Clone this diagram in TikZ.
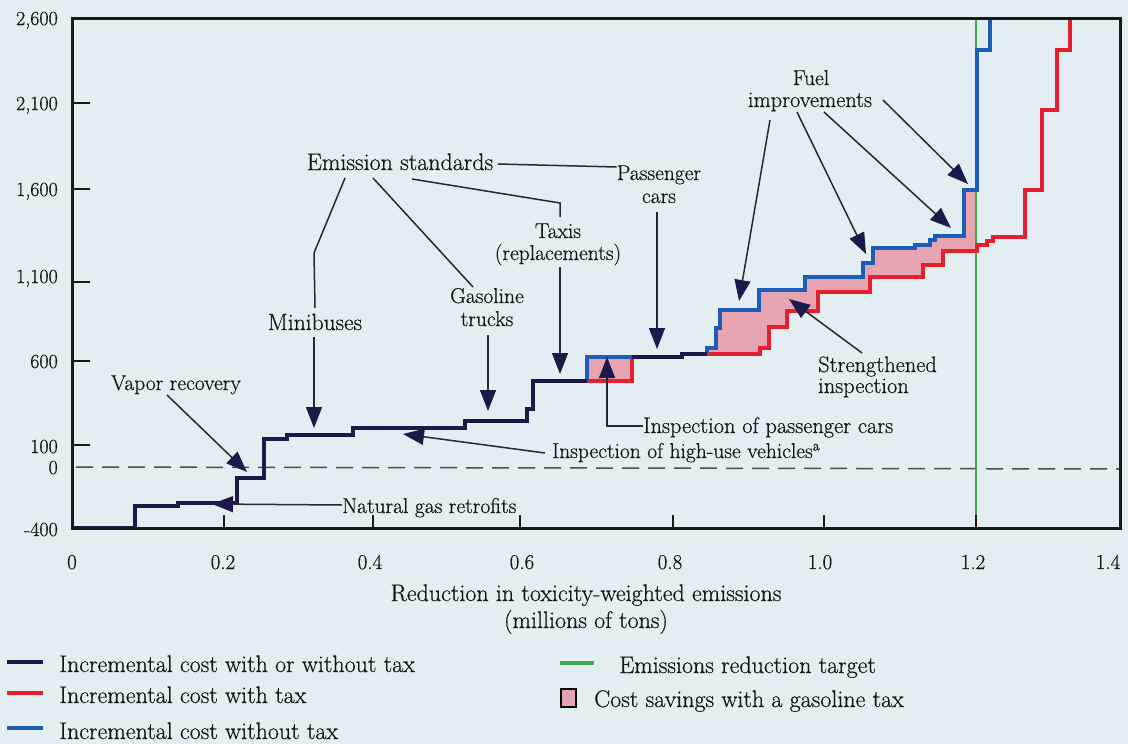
\documentclass[tikz,border=0pt]{standalone}
\usepackage{fontspec}
\setmainfont{Latin Modern Roman}[FakeBold=0.5]
\usetikzlibrary{arrows.meta}
\definecolor{bgc}{RGB}{226,238,242}
\definecolor{navy}{RGB}{28,26,74}
\definecolor{redc}{RGB}{228,32,44}
\definecolor{bluec}{RGB}{30,92,186}
\definecolor{greenc}{RGB}{70,165,80}
\definecolor{pinkc}{RGB}{230,163,176}
\definecolor{annc}{RGB}{40,40,50}
\definecolor{txtc}{RGB}{20,20,25}
\begin{document}
\begin{tikzpicture}[x=1pt,y=-1pt,
  txt/.style={font=\fontsize{21.5}{23}\selectfont, inner sep=0pt, text=txtc, anchor=base},
  bigtxt/.style={txt, font=\fontsize{24}{26}\selectfont},
  ylab/.style={font=\fontsize{20}{22}\selectfont, inner sep=0pt, text=txtc, anchor=base east},
  xlab/.style={font=\fontsize{21}{22}\selectfont, inner sep=0pt, text=txtc, anchor=base},
  ann/.style={draw=annc, line width=1.5pt},
  annarr/.style={ann, -{Triangle[length=21pt,width=16pt,color=navy]}},
  curven/.style={draw=navy, line width=3.8pt, line join=miter},
  curver/.style={draw=redc, line width=3.2pt, line join=miter},
  curveb/.style={draw=bluec, line width=3.2pt, line join=miter},
  legline/.style={line width=4pt}
]
\fill[bgc] (0,0) rectangle (1128,744);
\useasboundingbox (0,0) rectangle (1128,744);

% cost savings fills
\fill[pinkc] (587,381) -- (587,357) -- (632,357) -- (632,381) -- cycle;
\fill[pinkc] (707,354) -- (707,348) -- (716,348) -- (716,328) -- (720,328) -- (720,310) -- (759,310) -- (759,290) -- (805,290) -- (805,277) -- (863,277) -- (863,263) -- (873,263) -- (873,248) -- (915,248) -- (915,245) -- (930,245) -- (930,240) -- (935,240) -- (935,236) -- (964,236) -- (964,190) -- (977,190) -- (977,251) -- (943,251) -- (943,265) -- (923,265) -- (923,277) -- (870,277) -- (870,292) -- (818,292) -- (818,311) -- (787,311) -- (787,327) -- (769,327) -- (769,348) -- (760,348) -- (760,354) -- cycle;

% zero line and target
\draw[dash pattern=on 17pt off 9pt, line width=1.5pt, color=black!70] (76,467) -- (1120,469);
\draw[greenc, line width=2.5pt] (976,18) -- (976,528);

% curves
\draw[curver] (587,381) -- (632,381) -- (632,357);
\draw[curver] (707,354) -- (760,354) -- (760,348) -- (769,348) -- (769,327) -- (787,327) -- (787,311) -- (818,311) -- (818,292) -- (870,292) -- (870,277) -- (923,277) -- (923,265) -- (943,265) -- (943,251) -- (977,251) -- (977,245) -- (987,245) -- (987,241) -- (993,241) -- (993,237) -- (1025,237) -- (1025,190) -- (1042,190) -- (1042,110) -- (1057,110) -- (1057,50) -- (1070,50) -- (1070,18);
\draw[curveb] (587,381) -- (587,357) -- (632,357);
\draw[curveb] (707,354) -- (707,348) -- (716,348) -- (716,328) -- (720,328) -- (720,310) -- (759,310) -- (759,290) -- (805,290) -- (805,277) -- (863,277) -- (863,263) -- (873,263) -- (873,248) -- (915,248) -- (915,245) -- (930,245) -- (930,240) -- (935,240) -- (935,236) -- (964,236) -- (964,190) -- (977,190) -- (977,50) -- (990,50) -- (990,18);
\draw[curven] (72,528) -- (135,528) -- (135,506) -- (178,506) -- (178,503) -- (237,503) -- (237,478) -- (264,478) -- (264,439) -- (287,439) -- (287,435) -- (353,435) -- (353,428) -- (465,428) -- (465,421) -- (527,421) -- (527,409) -- (533,409) -- (533,381) -- (587,381);
\draw[curven] (632,357) -- (682,357) -- (682,354) -- (707,354);

% frame and ticks
\draw[line width=3pt, color=black!90] (72,18) rectangle (1120,528);
\foreach \yy in {103,189,282,361,445} \draw[line width=2.5pt, color=black!90] (72,\yy) -- (90,\yy);
\foreach \xx in {224,373,520,673,824,976} \draw[line width=2pt, color=black!90] (\xx,528) -- (\xx,515);

% y labels
\node[ylab] (y2600) at (58,25) {2,600};
\node[ylab] (y2100) at (58,110) {2,100};
\node[ylab] (y1600) at (58,196) {1,600};
\node[ylab] (y1100) at (58,283) {1,100};
\node[ylab] (y600) at (58,368) {600};
\node[ylab] (y100) at (58,453) {100};
\node[ylab] (y0) at (58,474) {0};
\node[ylab] (ym400) at (58,536) {-400};

% x labels
\node[xlab] (x0) at (72,569) {0};
\node[xlab] (x02) at (223,569) {0.2};
\node[xlab] (x04) at (370,569) {0.4};
\node[xlab] (x06) at (522,569) {0.6};
\node[xlab] (x08) at (670,569) {0.8};
\node[xlab] (x10) at (820,569) {1.0};
\node[xlab] (x12) at (973,569) {1.2};
\node[xlab] (x14) at (1108,569) {1.4};
\node[bigtxt] (xt1) at (586,601) {Reduction in toxicity-weighted emissions};
\node[bigtxt] (xt2) at (586,628) {(millions of tons)};

% annotation labels
\node[txt, font=\fontsize{24}{26}\selectfont] (es) at (400,170) {Emission standards};
\node[txt] (pc1) at (659,180) {Passenger};
\node[txt] (pc2) at (659,203) {cars};
\node[txt] (tx1) at (558,238) {Taxis};
\node[txt] (tx2) at (558,260) {(replacements)};
\node[txt] (gt1) at (487,303) {Gasoline};
\node[txt] (gt2) at (487,326) {trucks};
\node[txt, font=\fontsize{23.5}{25}\selectfont] (mb) at (315,330) {Minibuses};
\node[txt] (vr) at (176,390) {Vapor recovery};
\node[txt, anchor=base west] (ng) at (342,513) {Natural gas retrofits};
\node[txt, anchor=base west] (hu) at (552,458) {Inspection of high-use vehicles\textsuperscript{a}};
\node[txt, anchor=base west, font=\fontsize{22.4}{24}\selectfont] (ip) at (643,433) {Inspection of passenger cars};
\node[txt, anchor=base west, font=\fontsize{22.4}{24}\selectfont] (si1) at (818,372) {Strengthened};
\node[txt, anchor=base west, font=\fontsize{22.4}{24}\selectfont] (si2) at (818,393) {inspection};
\node[txt] (fi1) at (811,85) {Fuel};
\node[txt, font=\fontsize{22.3}{24}\selectfont] (fi2) at (810,107) {improvements};

% coordinates for connector ends
\coordinate (esMb) at (345,178);
\coordinate (bendMb) at (314,253);
\coordinate (esGt) at (373,178);
\coordinate (esTx) at (412,179);
\coordinate (bendTx) at (560,203);
\coordinate (esR) at (498,164);
\coordinate (tMb) at (314,428);
\coordinate (tGt) at (488,411);
\coordinate (tTx) at (560,374);
\coordinate (tPc) at (657,349);
\coordinate (tVr) at (247,472);
\coordinate (tNg) at (212,504);
\coordinate (tHu) at (403,434);
\coordinate (bendIp) at (607,426);
\coordinate (tIp) at (607,357);
\coordinate (tSi) at (789,299);
\coordinate (tF1) at (739,301);
\coordinate (tF2) at (866,254);
\coordinate (tF3) at (951,228);
\coordinate (tF4) at (968,184);

% connectors
\draw[ann] (esMb) -- (bendMb) -- (mb.north |- 0,308);
\draw[annarr] (314,337) -- (tMb);
\draw[ann] (esGt) -- (473,287);
\draw[annarr] (488,335) -- (tGt);
\draw[ann] (esTx) -- (bendTx) -- (560,217);
\draw[annarr] (560,267) -- (tTx);
\draw[ann] (esR) -- (pc1.west |- 0,167);
\draw[annarr] (657,212) -- (tPc);
\draw[annarr] (167,395) -- (tVr);
\draw[annarr] (ng.west |- 0,505) -- (tNg);
\draw[annarr] (545,453) -- (tHu);
\draw[ann, -{Triangle[length=21pt,width=16pt,color=navy]}] (ip.west |- 0,426) -- (bendIp) -- (tIp);
\draw[annarr] (862,353) -- (tSi);
\draw[annarr] (770,120) -- (tF1);
\draw[annarr] (797,112) -- (tF2);
\draw[annarr] (824,112) -- (tF3);
\draw[annarr] (883,100) -- (tF4);

% legend
\coordinate (l1a) at (7,662); \coordinate (l1b) at (43,662);
\coordinate (l2a) at (7,693); \coordinate (l2b) at (43,693);
\coordinate (l3a) at (7,728); \coordinate (l3b) at (43,728);
\coordinate (l4a) at (560,663); \coordinate (l4b) at (594,663);
\draw[legline, navy] (l1a) -- (l1b);
\draw[legline, redc] (l2a) -- (l2b);
\draw[legline, bluec] (l3a) -- (l3b);
\draw[legline, greenc] (l4a) -- (l4b);
\draw[fill=pinkc, draw=black, line width=1.5pt] (561,689) rectangle (576,707);
\node[bigtxt, anchor=base west] (lg1) at (59,672) {Incremental cost with or without tax};
\node[bigtxt, anchor=base west] (lg2) at (59,703) {Incremental cost with tax};
\node[bigtxt, anchor=base west] (lg3) at (59,739) {Incremental cost without tax};
\node[bigtxt, anchor=base west] (lg4) at (619,673) {Emissions reduction target};
\node[bigtxt, anchor=base west] (lg5) at (594,707) {Cost savings with a gasoline tax};
\end{tikzpicture}
\end{document}
